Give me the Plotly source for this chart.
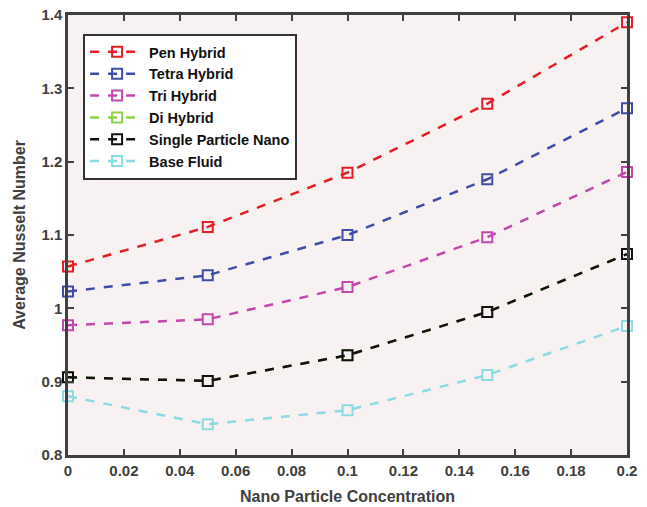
import plotly.graph_objects as go

# Nanoparticle volume fraction
concentration = [0, 0.05, 0.1, 0.15, 0.2]

# Average Nusselt number for each fluid
pen_hybrid = [1.057, 1.111, 1.185, 1.279, 1.390]
tetra_hybrid = [1.023, 1.045, 1.100, 1.176, 1.273]
tri_hybrid = [0.977, 0.985, 1.029, 1.097, 1.186]
di_hybrid = [0.906, 0.901, 0.936, 0.995, 1.074]
single_nano = [0.906, 0.901, 0.936, 0.995, 1.074]
base_fluid = [0.880, 0.842, 0.861, 0.909, 0.976]

series_names = ["Pen Hybrid", "Tetra Hybrid", "Tri Hybrid", "Di Hybrid",
                "Single Particle Nano", "Base Fluid"]
series_values = [pen_hybrid, tetra_hybrid, tri_hybrid, di_hybrid,
                 single_nano, base_fluid]
series_colors = ["#E31E24", "#3F4DA8", "#C447AE", "#8DD14A", "#111111", "#8ADBE4"]

x_ticks = [0, 0.02, 0.04, 0.06, 0.08, 0.1, 0.12, 0.14, 0.16, 0.18, 0.2]
x_tick_text = ["0", "0.02", "0.04", "0.06", "0.08", "0.1", "0.12", "0.14",
               "0.16", "0.18", "0.2"]
y_ticks = [0.8, 0.9, 1.0, 1.1, 1.2, 1.3, 1.4]
y_tick_text = ["0.8", "0.9", "1", "1.1", "1.2", "1.3", "1.4"]

axis_color = "#404040"
font_family = "Liberation Sans, Arial, sans-serif"

fig = go.Figure()
for name, vals, col in zip(series_names, series_values, series_colors):
    fig.add_trace(go.Scatter(
        x=concentration, y=vals, name=name, mode="lines+markers",
        line=dict(color=col, width=2.5, dash="dash"),
        marker=dict(symbol="square-open", size=10, color=col,
                    line=dict(color=col, width=2)),
        cliponaxis=False,
    ))

axis_common = dict(
    showgrid=False, zeroline=False, showline=True, linecolor=axis_color,
    linewidth=2.5, mirror="ticks", ticks="inside", ticklen=6, tickwidth=2,
    tickcolor=axis_color, automargin=False,
    tickfont=dict(family=font_family, size=15, color=axis_color, weight="bold"),
)

fig.update_layout(
    width=647, height=507,
    margin=dict(l=68, r=20, t=15, b=52),
    paper_bgcolor="white", plot_bgcolor="#F8F1F1",
    font=dict(family=font_family, color=axis_color),
    xaxis=dict(range=[0, 0.2], tickvals=x_ticks, ticktext=x_tick_text,
               title=dict(text="Nano Particle Concentration", standoff=14,
                          font=dict(family=font_family, size=16,
                                    color=axis_color, weight="bold")),
               **axis_common),
    yaxis=dict(range=[0.8, 1.4], tickvals=y_ticks, ticktext=y_tick_text,
               title=dict(text="Average Nusselt Number", standoff=12,
                          font=dict(family=font_family, size=16,
                                    color=axis_color, weight="bold")),
               **axis_common),
    legend=dict(
        x=0.027, y=0.957, xanchor="left", yanchor="top",
        bgcolor="white", bordercolor="#333333", borderwidth=2,
        font=dict(family=font_family, size=14.5, color="#111111", weight="bold"),
        tracegroupgap=0, itemwidth=54,
    ),
)

fig.write_html("out.html")
